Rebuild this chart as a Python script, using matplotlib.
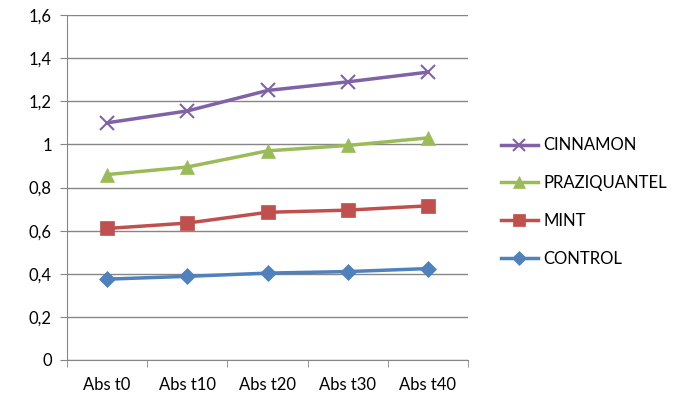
import matplotlib.pyplot as plt

# Data
categories = ['Abs t0', 'Abs t10', 'Abs t20', 'Abs t30', 'Abs t40']
cinnamon = [1.10, 1.155, 1.25, 1.29, 1.335]
praziquantel = [0.86, 0.895, 0.97, 0.995, 1.03]
mint = [0.61, 0.635, 0.685, 0.695, 0.715]
control = [0.375, 0.388, 0.403, 0.41, 0.424]

yticks = [0, 0.2, 0.4, 0.6, 0.8, 1.0, 1.2, 1.4, 1.6]
yticklabels = ['0', '0,2', '0,4', '0,6', '0,8', '1', '1,2', '1,4', '1,6']

plt.rcParams['font.family'] = ['Lato', 'DejaVu Sans']

fig = plt.figure(figsize=(6.83, 3.97), dpi=100)
ax = fig.add_axes([67 / 683, 1 - 360 / 397, (468 - 67) / 683, (360 - 15) / 397])

x = range(len(categories))
series = [
    ('CINNAMON', cinnamon, '#7F63A6', 'x', 10, 1.5),
    ('PRAZIQUANTEL', praziquantel, '#9BBB59', '^', 10, 0),
    ('MINT', mint, '#C0504D', 's', 9.5, 0),
    ('CONTROL', control, '#4F81BD', 'D', 8, 0),
]
for name, vals, col, mk, ms, mew in series:
    ax.plot(x, vals, color=col, lw=2.5, marker=mk, ms=ms,
            markeredgewidth=mew if mew else 0.5, markeredgecolor=col,
            markerfacecolor=col, label=name, zorder=3)

ax.set_xlim(-0.5, len(categories) - 0.5)
ax.set_ylim(0, 1.6)
ax.set_yticks(yticks)
ax.set_yticklabels(yticklabels)
ax.set_xticks(list(x))
ax.set_xticklabels(categories)
ax.set_xticks([i - 0.5 for i in range(len(categories) + 1)], minor=True)
ax.tick_params(axis='x', which='major', length=0, pad=12, labelsize=12)
ax.tick_params(axis='x', which='minor', length=5, color='#868686', direction='out')
ax.tick_params(axis='y', length=5, color='#868686', labelsize=12, pad=6)

ax.grid(axis='y', color='#868686', lw=1)
ax.set_axisbelow(True)
for s in ['top', 'right']:
    ax.spines[s].set_visible(False)
for s in ['left', 'bottom']:
    ax.spines[s].set_color('#868686')

handles, labels = ax.get_legend_handles_labels()
fig.legend(handles, labels, loc='center left', bbox_to_anchor=(486 / 683, 1 - 202 / 397),
           frameon=False, fontsize=12, handlelength=2.2, labelspacing=1.3,
           handletextpad=0.35, markerscale=0.85)

fig.savefig('out.png', dpi=100)
